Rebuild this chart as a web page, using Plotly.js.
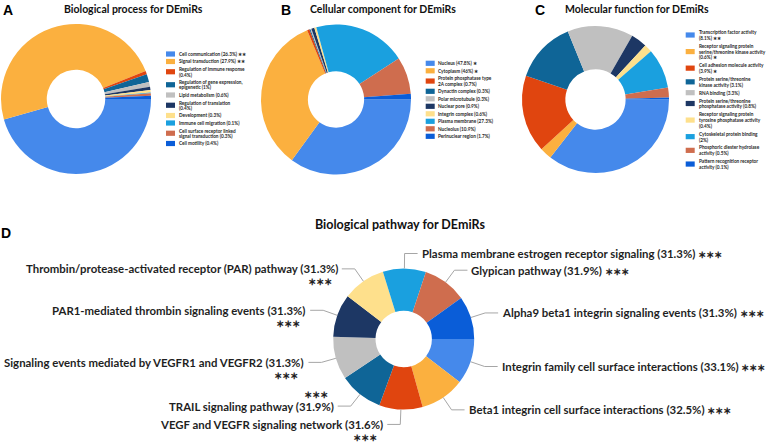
<!DOCTYPE html>
<html><head><meta charset="utf-8">
<script src="https://cdn.plot.ly/plotly-3.0.1.min.js"></script>
<style>html,body{margin:0;padding:0;background:#fff}#chart{width:770px;height:442px}</style>
</head><body><div id="chart"></div>
<script>
// ---------- DATA ----------
const sliceColors = ['#4589EB','#FBB03F','#E0450F','#0F6597','#C0C0C0','#1D3764','#FEE08C','#1AA0DF','#CF6D4E','#0A5DD8'];

const bpNames = ['Cell communication','Signal transduction','Regulation of immune response','Regulation of gene expression, epigenetic','Lipid metabolism','Regulation of translation','Development','Immune cell migration','Cell surface receptor linked signal transduction','Cell motility'];
const bpValues = [26.3, 27.9, 0.4, 1, 0.6, 0.4, 0.3, 0.1, 0.3, 0.4];
const bpLegend = ['Cell communication (26.3%) ∗∗','Signal transduction (27.9%) ∗∗','Regulation of immune response\n(0.4%)','Regulation of gene expression,\nepigenetic (1%)','Lipid metabolism (0.6%)','Regulation of translation\n(0.4%)','Development (0.3%)','Immune cell migration (0.1%)','Cell surface receptor linked\nsignal transduction (0.3%)','Cell motility (0.4%)'];

const ccNames = ['Nucleus','Cytoplasm','Protein phosphatase type 2A complex','Dynactin complex','Polar microtubule','Nuclear pore','Integrin complex','Plasma membrane','Nucleolus','Perinuclear region'];
const ccValues = [47.8, 46, 0.7, 0.3, 0.3, 0.9, 0.6, 27.3, 10.9, 1.7];
const ccLegend = ['Nucleus (47.8%) ∗','Cytoplasm (46%) ∗','Protein phosphatase type\n2A complex (0.7%)','Dynactin complex (0.3%)','Polar microtubule (0.3%)','Nuclear pore (0.9%)','Integrin complex (0.6%)','Plasma membrane (27.3%)','Nucleolus (10.9%)','Perinuclear region (1.7%)'];

const mfNames = ['Transcription factor activity','Receptor signaling protein serine/threonine kinase activity','Cell adhesion molecule activity','Protein serine/threonine kinase activity','RNA binding','Protein serine/threonine phosphatase activity','Receptor signaling protein tyrosine phosphatase activity','Cytoskeletal protein binding','Phosphoric diester hydrolase activity','Pattern recognition receptor activity'];
const mfValues = [8.1, 0.6, 3.9, 3.1, 3.3, 0.8, 0.4, 2, 0.5, 0.1];
const mfLegend = ['Transcription factor activity\n(8.1%) ∗∗','Receptor signaling protein\nserine/threonine kinase activity\n(0.6%) ∗','Cell adhesion molecule activity\n(3.9%) ∗','Protein serine/threonine\nkinase activity (3.1%)','RNA binding (3.3%)','Protein serine/threonine\nphosphatase activity (0.8%)','Receptor signaling protein\ntyrosine phosphatase activity\n(0.4%)','Cytoskeletal protein binding\n(2%)','Phosphoric diester hydrolase\nactivity (0.5%)','Pattern recognition receptor\nactivity (0.1%)'];

const pwNames = ['Integrin family cell surface interactions','Beta1 integrin cell surface interactions','VEGF and VEGFR signaling network','TRAIL signaling pathway','Signaling events mediated by VEGFR1 and VEGFR2','PAR1-mediated thrombin signaling events','Thrombin/protease-activated receptor (PAR) pathway','Plasma membrane estrogen receptor signaling','Glypican pathway','Alpha9 beta1 integrin signaling events'];
const pwValues = [33.1, 32.5, 31.6, 31.9, 31.3, 31.3, 31.3, 31.3, 31.9, 31.3];
const pwStars = ['∗∗∗','∗∗∗','∗∗∗','∗∗∗','∗∗∗','∗∗∗','∗∗∗','∗∗∗','∗∗∗','∗∗∗'];
const pwStarsPlace = ['inline','inline','below','above','below','below','below','inline','inline','inline'];

const panelTitles = ['Biological process for DEmiRs','Cellular component for DEmiRs','Molecular function for DEmiRs','Biological pathway for DEmiRs'];
const panelLetters = ['A','B','C','D'];

// ---------- LAYOUT HELPERS ----------
const W = 770, H = 442;
const px = x => x / W, py = y => 1 - y / H;
const FONT = 'Lato, "Open Sans", sans-serif';
const TXT = '#1f1f1f';

function domainFor(cx, cy, r) {
  return {x: [px(cx - r), px(cx + r)], y: [py(cy + r), py(cy - r)]};
}
function pieTrace(names, values, cx, cy, r, hole) {
  return {
    type: 'pie', labels: names, values: values, sort: false,
    direction: 'clockwise', rotation: 90, hole: hole,
    marker: {colors: sliceColors, line: {width: 0}},
    textinfo: 'none', hoverinfo: 'label+percent', showlegend: false,
    domain: domainFor(cx, cy, r)
  };
}

const panels = [
  {names: bpNames, values: bpValues, cx: 76, cy: 99, r: 75, hole: 0.39},
  {names: ccNames, values: ccValues, cx: 336, cy: 99.5, r: 75, hole: 0.375},
  {names: mfNames, values: mfValues, cx: 595.5, cy: 99.5, r: 73.5, hole: 0.41},
  {names: pwNames, values: pwValues, cx: 403.7, cy: 339, r: 70.5, hole: 0.4}
];
const data = panels.map(p => pieTrace(p.names, p.values, p.cx, p.cy, p.r, p.hole));

const annotations = [];
const shapes = [];

// Titles and panel letters
const titlePos = [[133, 8.5, 10.5], [383.3, 8.5, 10.5], [637, 8.5, 10.5], [400, 224, 12.5]];
titlePos.forEach((t, i) => annotations.push({
  xref: 'paper', yref: 'paper', x: px(t[0]), y: py(t[1]), xanchor: 'center', yanchor: 'middle',
  text: panelTitles[i], showarrow: false, borderpad: 0,
  font: {family: FONT, size: t[2], color: '#111', weight: 'bold'}
}));
const letterPos = [[2, 9.5], [280, 9.5], [534, 9.5], [0, 233]];
letterPos.forEach((t, i) => annotations.push({
  xref: 'paper', yref: 'paper', x: px(t[0]), y: py(t[1]), xanchor: 'left', yanchor: 'middle',
  text: panelLetters[i], showarrow: false, borderpad: 0,
  font: {family: 'Liberation Sans, Arial, sans-serif', size: 14, color: '#000', weight: 'bold'}
}));

// Custom compact legends
function addLegend(lines, swatchX, textX, startY, lineH, pad, fs) {
  const hs = lines.map(t => t.split('\n').length * lineH + pad);
  let y = startY;
  lines.forEach((t, i) => {
    if (i > 0) y += (hs[i - 1] + hs[i]) / 2;
    shapes.push({type: 'rect', xref: 'paper', yref: 'paper',
      x0: px(swatchX), x1: px(swatchX + 9), y0: py(y - 2.6), y1: py(y + 2.6),
      fillcolor: sliceColors[i], line: {width: 0}});
    const parts = t.split('\n');
    parts.forEach((s, j) => {
      const ly = y + (j - (parts.length - 1) / 2) * lineH;
      annotations.push({xref: 'paper', yref: 'paper', x: px(textX), y: py(ly),
        xanchor: 'left', yanchor: 'middle', text: s, showarrow: false, borderpad: 0,
        font: {family: FONT, size: fs, color: '#262626', weight: 'bold'}});
    });
  });
}
addLegend(bpLegend, 166, 177.5, 54, 5.5, 2.0, 4.7);
addLegend(ccLegend, 425.7, 437.3, 63.3, 5.5, 2.0, 4.7);
addLegend(mfLegend, 685.7, 698.3, 35, 5.75, 2.2, 4.7);

// Panel D outside labels with leader lines
(function () {
  const p = panels[3];
  const total = pwValues.reduce((a, b) => a + b, 0);
  let cum = 0;
  pwValues.forEach((v, i) => {
    const mid = (90 + (cum + v / 2) / total * 360) * Math.PI / 180; // clockwise from 12 o'clock
    cum += v;
    const dx = Math.sin(mid), dy = -Math.cos(mid);
    const ax = p.cx + p.r * dx, ay = p.cy + p.r * dy;
    const ex = p.cx + (p.r + 15) * dx, ey = p.cy + (p.r + 15) * dy;
    const right = dx >= 0;
    const hx = ex + (right ? 13 : -13);
    const tx = ex + (right ? 16 : -16);
    shapes.push({type: 'path', xref: 'paper', yref: 'paper',
      path: `M ${px(ax)} ${py(ay)} L ${px(ex)} ${py(ey)} L ${px(hx)} ${py(ey)}`,
      line: {color: '#A6A6A6', width: 1}});
    const label = `${pwNames[i]} (${v}%)` +
      (pwStarsPlace[i] === 'inline' ? ` <span style="font-size:10px">${pwStars[i]}</span>` : '');
    annotations.push({xref: 'paper', yref: 'paper', x: px(tx), y: py(ey),
      xanchor: right ? 'left' : 'right', yanchor: 'middle', text: label, showarrow: false, borderpad: 0,
      font: {family: FONT, size: 11.4, color: TXT, weight: 'bold'}});
    if (pwStarsPlace[i] !== 'inline') {
      annotations.push({xref: 'paper', yref: 'paper', x: px(tx - 19),
        y: py(ey + (pwStarsPlace[i] === 'below' ? 12.5 : -12.5)),
        xanchor: 'center', yanchor: 'middle', text: pwStars[i], showarrow: false, borderpad: 0,
        font: {family: FONT, size: 10, color: TXT, weight: 'bold'}});
    }
  });
})();

const layout = {
  width: W, height: H, margin: {l: 0, r: 0, t: 0, b: 0},
  paper_bgcolor: '#fff', plot_bgcolor: '#fff',
  showlegend: false, annotations: annotations, shapes: shapes,
  font: {family: FONT}
};
Plotly.newPlot('chart', data, layout, {displayModeBar: false, staticPlot: true});
</script>
</body></html>
